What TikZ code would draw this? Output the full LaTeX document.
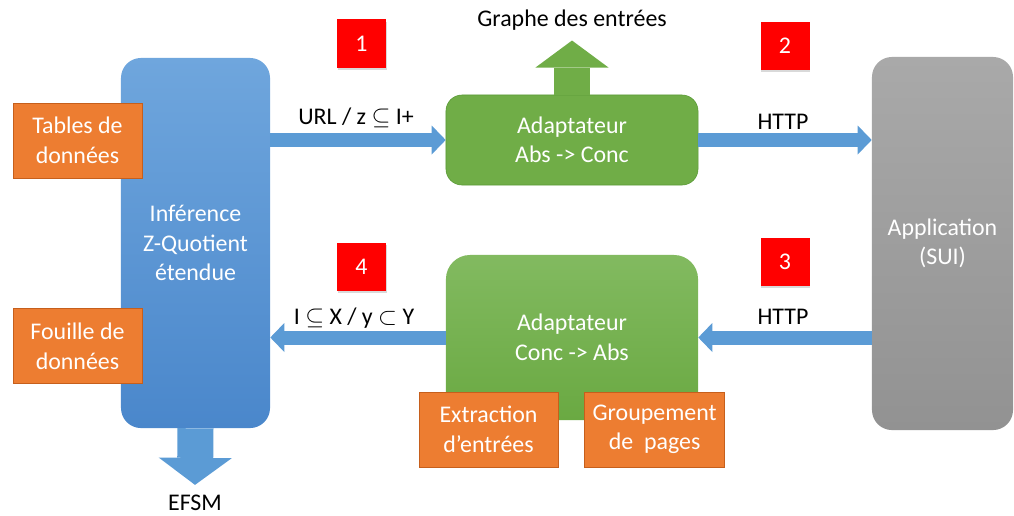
\documentclass[tikz,border=0pt]{standalone}
\usepackage{fontspec}
\setmainfont{Carlito}
\usetikzlibrary{positioning, arrows.meta, shadows}
\definecolor{bluetop}{HTML}{6FA6DD}
\definecolor{bluebot}{HTML}{4A87CB}
\definecolor{flowblue}{HTML}{5B9BD5}
\definecolor{greenflat}{HTML}{70AD47}
\definecolor{greenedge}{HTML}{5A9A36}
\definecolor{greentop}{HTML}{82BA60}
\definecolor{greenbot}{HTML}{6AA942}
\definecolor{graytop}{HTML}{A9A9A9}
\definecolor{graybot}{HTML}{929292}
\definecolor{orangefill}{HTML}{ED7D31}
\definecolor{orangeedge}{HTML}{C65F1C}
\definecolor{redfill}{HTML}{FF0000}

\begin{document}
\begin{tikzpicture}[
    x=0.025cm, y=-0.025cm,
    every node/.style={font=\fontsize{17}{21}\selectfont, align=center, inner sep=0pt},
    block/.style={rounded corners=0.5cm, text=white},
    inferbox/.style={block, top color=bluetop, bottom color=bluebot, minimum width=3.725cm, minimum height=9.25cm},
    appbox/.style={block, top color=graytop, bottom color=graybot, minimum width=3.525cm, minimum height=9.325cm},
    adaptA/.style={block, rounded corners=0.4cm, fill=greenflat, draw=greenedge, minimum width=6.3cm, minimum height=2.25cm},
    adaptB/.style={block, rounded corners=0.6cm, top color=greentop, bottom color=greenbot, minimum width=6.3cm, minimum height=4.125cm},
    source/.style={fill=orangefill, draw=orangeedge, text=white, minimum width=3.225cm, minimum height=1.875cm},
    stepnum/.style={fill=redfill, text=white, minimum width=1.225cm, minimum height=1.2cm, drop shadow={opacity=0.3, shadow xshift=0.5pt, shadow yshift=-1.5pt}},
    flow/.style={draw=flowblue, line width=0.35cm, -{Triangle[width=0.725cm, length=0.35cm, line width=0pt]}},
    bigflow/.style={line width=0.9cm, -{Triangle[width=1.825cm, length=0.675cm, line width=0pt]}}
]
\useasboundingbox (0,0) rectangle (1014,515);

\node[inferbox] (infer) at (195.5,243) {Inférence\\Z-Quotient\\étendue};
\node[source] (tables) at (77.5,140.5) {Tables de\\données};
\node[source, below=3.25cm of tables] (fouille) {Fouille de\\données};

\node[adaptA] (absconc) at (572,140) {Adaptateur\\Abs -> Conc};
\node[adaptB] (concabs) at (572,337.5) {Adaptateur\\Conc -> Abs};
\node[source, minimum width=3.475cm] (extract) at (488.5,429.5) {Extraction\\d’entrées};
\node[source, minimum width=3.5cm, right=0.65cm of extract] (groupe) {Groupement\\de~~pages};

\node[appbox] (app) at (942.5,243.5) {Application\\(SUI)};

\node[stepnum] (n1) at (361.5,43.5) {1};
\node[stepnum] (n2) at (785,46) {2};
\node[stepnum] (n3) at (785,262) {3};
\node[stepnum] (n4) at (361.5,267) {4};

\node (graphe) at (572,20) {Graphe des entrées};
\node (efsm) at (195,503) {EFSM};
\node (url) at (356,118) {URL / z $\subseteq$ I+};
\node (http1) at (783,122) {HTTP};
\node (http2) at (783,317) {HTTP};
\node (sub) at (354,318) {I $\subseteq$ X / y $\subset$ Y};

\draw[flow] (infer.east |- absconc) -- (absconc.west);
\draw[flow] (absconc.east) -- (app.west |- absconc);
\draw[flow] (app.west |- concabs) -- (concabs.east);
\draw[flow] (concabs.west) -- (infer.east |- concabs);
\draw[bigflow, draw=flowblue] (infer.south) -- ([yshift=0.25cm]efsm.north);
\draw[bigflow, draw=greenflat] (absconc.north) -- ([yshift=-0.25cm]graphe.south);
\end{tikzpicture}
\end{document}
